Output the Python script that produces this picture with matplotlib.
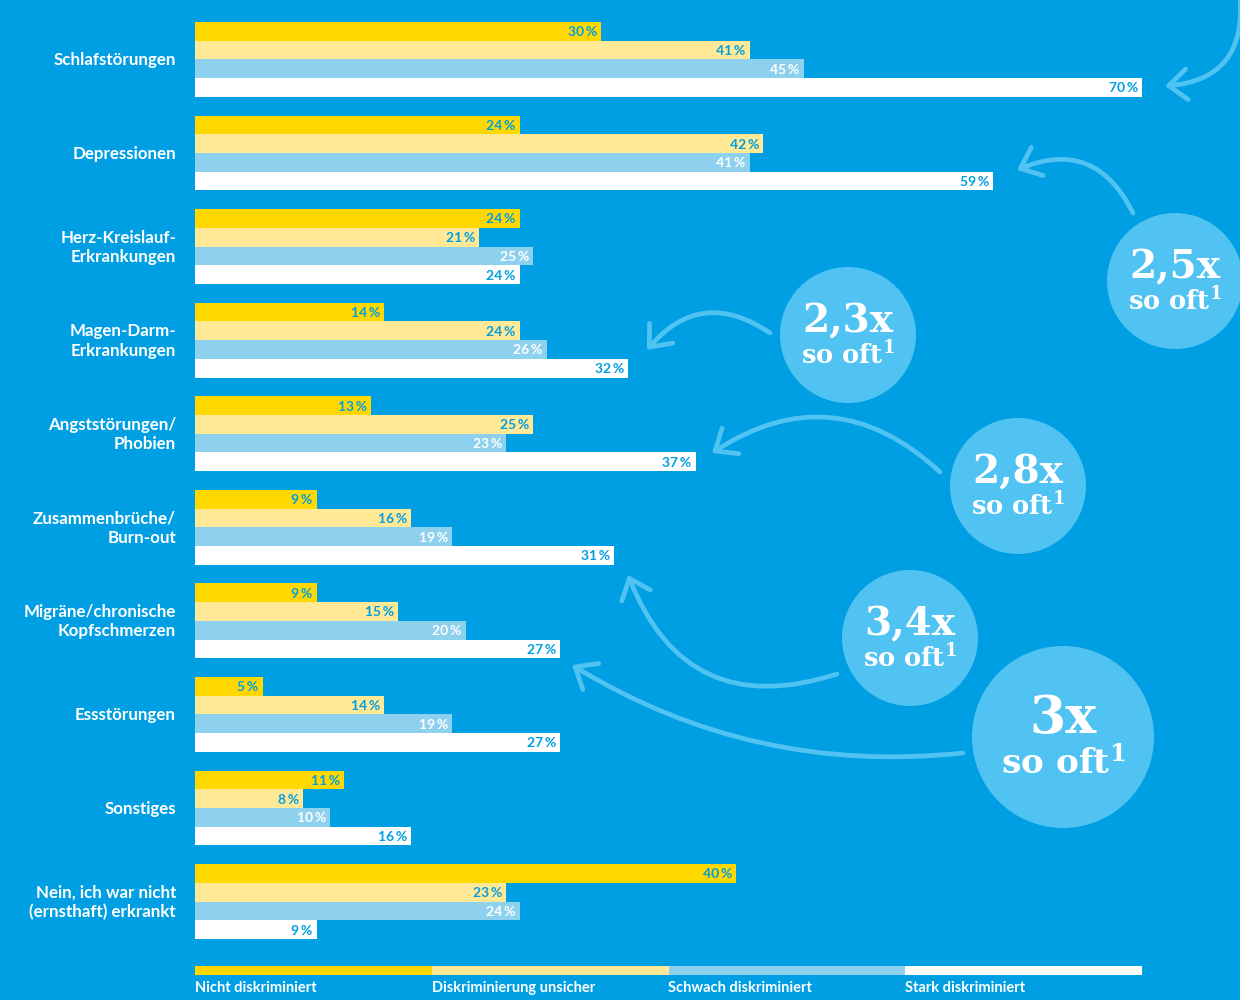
import matplotlib
matplotlib.use("Agg")
import matplotlib.pyplot as plt
from matplotlib.patches import Circle, FancyArrowPatch

categories = ["Schlafstörungen", "Depressionen", "Herz-Kreislauf-\nErkrankungen",
              "Magen-Darm-\nErkrankungen", "Angststörungen/\nPhobien",
              "Zusammenbrüche/\nBurn-out", "Migräne/chronische\nKopfschmerzen",
              "Essstörungen", "Sonstiges", "Nein, ich war nicht\n(ernsthaft) erkrankt"]
nicht = [30, 24, 24, 14, 13, 9, 9, 5, 11, 40]
unsicher = [41, 42, 21, 24, 25, 16, 15, 14, 8, 23]
schwach = [45, 41, 25, 26, 23, 19, 20, 19, 10, 24]
stark = [70, 59, 24, 32, 37, 31, 27, 27, 16, 9]
series_names = ["Nicht diskriminiert", "Diskriminierung unsicher",
                "Schwach diskriminiert", "Stark diskriminiert"]
factors = ["2,5x", "2,3x", "2,8x", "3,4x", "3x"]

BG = "#009FE3"
colors = ["#FFD800", "#FFE896", "#8DD1EE", "#FFFFFF"]
label_colors = [BG, BG, "#FFFFFF", BG]
CIRC = "#50C3F3"

plt.rcParams["mathtext.fontset"] = "dejavuserif"

fig = plt.figure(figsize=(12.4, 10), dpi=100)
fig.patch.set_facecolor(BG)

# main bar axes: 0% at x=195px, 70% at x=1142px
ax = fig.add_axes([195 / 1240, 1 - 939 / 1000, (1142 - 195) / 1240, 917 / 1000])
ax.set_facecolor("none")
ax.set_xlim(0, 70)
ax.set_ylim(49, 0)
ax.axis("off")

all_series = [nicht, unsicher, schwach, stark]
for g, cat in enumerate(categories):
    for k, vals in enumerate(all_series):
        y = g * 5 + k
        v = vals[g]
        ax.barh(y, v, height=1.0, left=0, align="edge", color=colors[k], linewidth=0)
        ax.text(v - 0.3, y + 0.55, f"{v}\u2009%", ha="right", va="center",
                fontsize=10, fontweight="bold", color=label_colors[k],
                family=["Lato", "DejaVu Sans"])
    ax.text(-1.4, g * 5 + 2.05, cat, ha="right", va="center", fontsize=12.2,
            fontweight="bold", color="white", family="Lato", linespacing=1.25)

# legend strip
lax = fig.add_axes([195 / 1240, 1 - 975 / 1000, (1142 - 195) / 1240, 9 / 1000])
lax.set_xlim(0, 4)
lax.set_ylim(0, 1)
lax.axis("off")
for k, name in enumerate(series_names):
    lax.barh(0, 1, left=k, height=1, align="edge", color=colors[k], linewidth=0)
    lax.text(k, -0.7, name, ha="left", va="top", fontsize=10.5, fontweight="bold",
             color="white", family="Lato")

# overlay in pixel coordinates for circles and arrows
ov = fig.add_axes([0, 0, 1, 1])
ov.set_xlim(0, 1240)
ov.set_ylim(1000, 0)
ov.set_facecolor("none")
ov.axis("off")

circles = [(1175, 281, 68), (848, 335, 68), (1018, 486, 68), (910, 638, 68), (1063, 737, 91)]
for (cx, cy, r), f in zip(circles, factors):
    ov.add_patch(Circle((cx, cy), r, color=CIRC, linewidth=0))
    s = r / 68
    ov.text(cx, cy - 14 * s, f, ha="center", va="center", fontsize=28 * s,
            color="white", family="DejaVu Serif", fontweight="bold")
    ov.text(cx, cy + 20 * s, r"so oft${}^{\mathbf{1}}$", ha="center", va="center",
            fontsize=18.5 * s, color="white", family="DejaVu Serif", fontweight="bold")

arrows = [((1240, -2), (1165, 86), -0.5),
          ((1133, 213), (1017, 170), 0.47),
          ((770, 333), (647, 350), 0.45),
          ((940, 472), (712, 453), 0.39),
          ((837, 674), (628, 575), -0.47),
          ((963, 753), (572, 665), -0.17)]
for a, b, rad in arrows:
    ov.add_patch(FancyArrowPatch(a, b, connectionstyle=f"arc3,rad={rad}",
                                 arrowstyle="->,head_length=0.6,head_width=0.5",
                                 mutation_scale=22, color=CIRC, linewidth=3.4,
                                 capstyle="round", joinstyle="round",
                                 shrinkA=0, shrinkB=0))

fig.savefig("out.png", dpi=100, facecolor=BG)
